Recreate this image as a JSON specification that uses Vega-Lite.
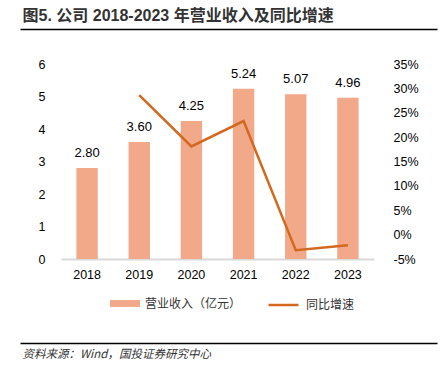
{
  "$schema": "https://vega.github.io/schema/vega-lite/v6.json",
  "autosize": "none",
  "width": 313,
  "height": 195,
  "padding": {"left": 61, "top": 64, "right": 71, "bottom": 115},
  "background": "white",
  "config": {
    "view": {"stroke": null},
    "font": "Liberation Sans, Noto Sans CJK SC",
    "axis": {"labelFont": "Liberation Sans, Noto Sans CJK SC", "labelFontSize": 12.5, "labelColor": "#000000", "grid": false, "ticks": false, "domain": false, "title": null},
    "legend": {"labelFont": "Noto Sans CJK SC", "labelFontSize": 12, "labelColor": "#333333", "padding": 0, "title": null}
  },
  "data": {"values": [
    {"year": "2018", "revenue": 2.80, "growth": null},
    {"year": "2019", "revenue": 3.60, "growth": 28.6},
    {"year": "2020", "revenue": 4.25, "growth": 18.1},
    {"year": "2021", "revenue": 5.24, "growth": 23.3},
    {"year": "2022", "revenue": 5.07, "growth": -3.2},
    {"year": "2023", "revenue": 4.96, "growth": -2.2}
  ]},
  "layer": [
    {
      "encoding": {
        "x": {"field": "year", "type": "nominal", "sort": null,
          "scale": {"paddingInner": 0.59, "paddingOuter": 0.295},
          "axis": {"labelAngle": 0, "domain": true, "domainColor": "#D9D9D9", "domainWidth": 2, "labelPadding": 9}}
      },
      "layer": [
        {
          "mark": {"type": "bar", "color": "#F1A98A"},
          "encoding": {
            "y": {"field": "revenue", "type": "quantitative",
              "scale": {"domain": [0, 6], "nice": false},
              "axis": {"orient": "left", "values": [0,1,2,3,4,5,6], "labelPadding": 16}},
            "color": {"datum": "营业收入（亿元）", "type": "nominal",
              "scale": {"range": ["#F1A98A"]},
              "legend": {"orient": "none", "legendX": 49, "legendY": 224.5, "symbolType": "M-1,-0.23L1,-0.23L1,0.23L-1,0.23Z", "symbolSize": 900, "symbolStrokeWidth": 0, "labelOffset": 5}}
          }
        },
        {
          "mark": {"type": "text", "baseline": "alphabetic", "dy": -11, "fontSize": 13, "font": "Liberation Sans", "color": "#000000"},
          "encoding": {
            "y": {"field": "revenue", "type": "quantitative", "scale": {"domain": [0, 6], "nice": false}, "axis": null},
            "text": {"field": "revenue", "type": "quantitative", "format": ".2f"}
          }
        },
        {
          "mark": {"type": "line", "strokeWidth": 2.5},
          "encoding": {
            "y": {"field": "growth", "type": "quantitative",
              "scale": {"domain": [-5, 35], "nice": false},
              "axis": {"orient": "right", "values": [-5,0,5,10,15,20,25,30,35], "labelExpr": "datum.value + '%'", "labelPadding": 19}},
            "stroke": {"datum": "同比增速", "type": "nominal",
              "scale": {"range": ["#D2691E"]},
              "legend": {"orient": "none", "legendX": 206, "legendY": 224.5, "symbolType": "M-1,0L1,0", "symbolSize": 900, "symbolStrokeWidth": 2.5, "labelOffset": 6}}
          }
        }
      ],
      "resolve": {"scale": {"y": "independent"}}
    },
    {
      "data": {"values": [{"k": 0}]},
      "mark": {"type": "rule", "opacity": 0},
      "encoding": {
        "x": {"field": "k", "type": "quantitative",
          "scale": {"domain": [0, 1], "range": [-41, 376]},
          "axis": {"orient": "top", "offset": 35, "domain": true, "domainColor": "#000000", "domainWidth": 1.6, "labels": false,
            "title": "图5. 公司 2018-2023 年营业收入及同比增速", "titleFont": "Liberation Sans, Noto Sans CJK SC", "titleFontSize": 16, "titleFontWeight": "bold", "titleColor": "#333333",
            "titleX": -39, "titleY": -14, "titleAlign": "left", "titleBaseline": "middle", "titleAnchor": null}}
      }
    },
    {
      "data": {"values": [{"k": 0}]},
      "mark": {"type": "rule", "opacity": 0},
      "encoding": {
        "x": {"field": "k", "type": "quantitative",
          "scale": {"domain": [0, 1], "range": [-41, 376]},
          "axis": {"orient": "bottom", "offset": 84, "domain": true, "domainColor": "#000000", "domainWidth": 1.6, "labels": false,
            "title": "资料来源：Wind，国投证券研究中心", "titleFont": "Noto Sans CJK SC", "titleFontSize": 11.5, "titleFontWeight": "normal", "titleFontStyle": "italic", "titleColor": "#333333",
            "titleX": -39, "titleY": 11, "titleAlign": "left", "titleBaseline": "middle"}}
      }
    }
  ],
  "resolve": {"scale": {"x": "independent"}, "axis": {"x": "independent"}}
}
